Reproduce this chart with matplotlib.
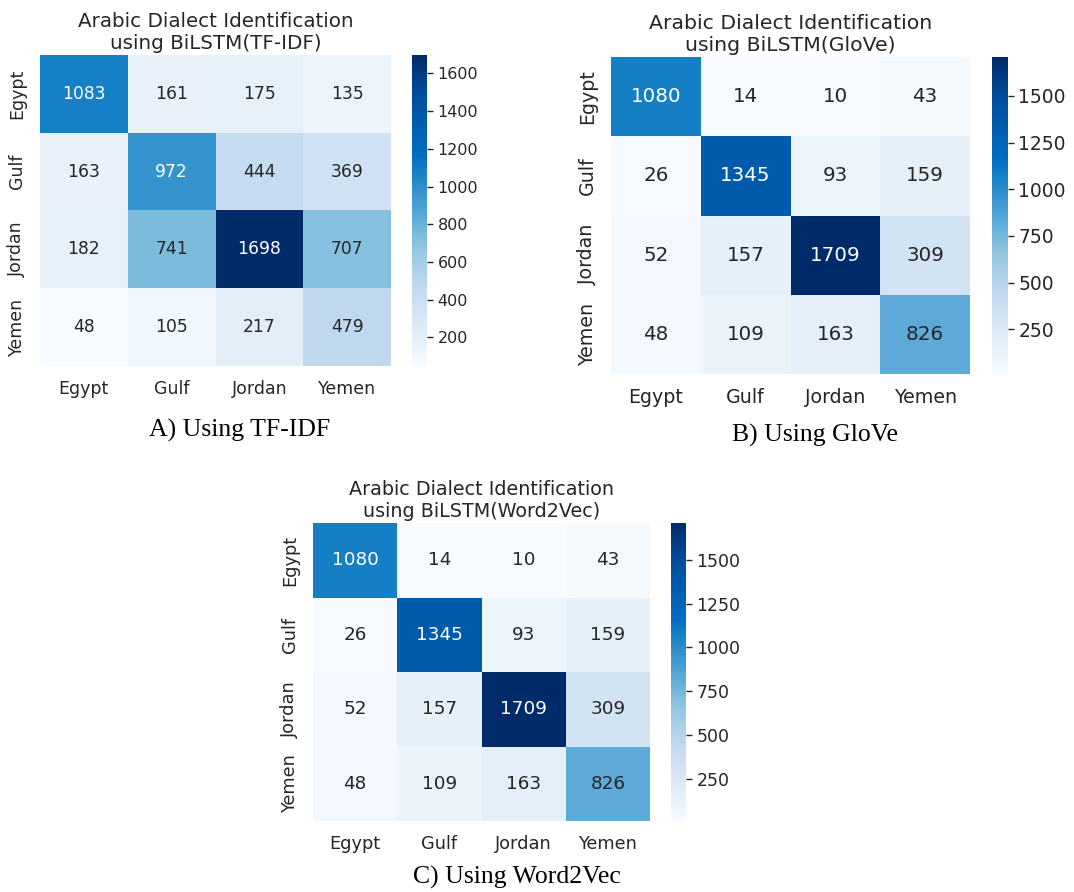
import numpy as np
import matplotlib
matplotlib.use("Agg")
import matplotlib.pyplot as plt
import matplotlib.colors as mcolors
import seaborn as sns
from seaborn.utils import relative_luminance

plt.rcParams["font.family"] = ["DejaVu Sans"]

labels = ["Egypt", "Gulf", "Jordan", "Yemen"]

cm_tfidf = [
    [1083, 161, 175, 135],
    [163, 972, 444, 369],
    [182, 741, 1698, 707],
    [48, 105, 217, 479],
]
cm_glove = [
    [1080, 14, 10, 43],
    [26, 1345, 93, 159],
    [52, 157, 1709, 309],
    [48, 109, 163, 826],
]
cm_word2vec = [
    [1080, 14, 10, 43],
    [26, 1345, 93, 159],
    [52, 157, 1709, 309],
    [48, 109, 163, 826],
]

titles = [
    "Arabic Dialect Identification\nusing BiLSTM(TF-IDF)",
    "Arabic Dialect Identification\nusing BiLSTM(GloVe)",
    "Arabic Dialect Identification\nusing BiLSTM(Word2Vec)",
]
captions = ["A) Using TF-IDF", "B) Using GloVe", "C) Using Word2Vec"]
cbar_ticks = [
    [200, 400, 600, 800, 1000, 1200, 1400, 1600],
    [250, 500, 750, 1000, 1250, 1500],
    [250, 500, 750, 1000, 1250, 1500],
]

# A punchier variant of the "Blues" colormap
blues = plt.get_cmap("Blues")
base = blues(np.linspace(0, 1, 256))[:, :3]
hsv = mcolors.rgb_to_hsv(base)
s = hsv[:, 1]
hsv[:, 1] = np.clip(s * (1 + 0.5 * s), 0, 1)
blues_vivid = mcolors.ListedColormap(mcolors.hsv_to_rgb(hsv), name="blues_vivid")

W, H = 1074, 892
fig = plt.figure(figsize=(W / 100, H / 100), dpi=100)


def px_axes(x0, y0, x1, y1):
    return fig.add_axes([x0 / W, 1 - y1 / H, (x1 - x0) / W, (y1 - y0) / H])


# (heatmap box, colorbar box, caption position) in pixels
panels = [
    ((40, 55, 391, 366), (412, 55, 427, 366), (240, 430)),
    ((611, 57, 970, 374), (992, 57, 1008, 374), (815, 435)),
    ((313, 523, 650, 821), (671, 523, 686, 821), (517, 877)),
]
# font sizes per panel: (annotation, tick labels, colorbar labels, title)
sizes = [
    (12.3, 12.5, 11.5, 14.3),
    (14.3, 13.7, 13.5, 14.7),
    (13.2, 12.8, 12.5, 13.8),
]

text_color = "#262626"
for data, title, cap, ticks, (hm, cb, cp), (fa, ft, fc, fti) in zip(
    [cm_tfidf, cm_glove, cm_word2vec], titles, captions, cbar_ticks, panels, sizes
):
    arr = np.array(data)
    ax = px_axes(*hm)
    cax = px_axes(*cb)
    sns.heatmap(
        arr, annot=True, fmt="d", cmap=blues_vivid, ax=ax, cbar_ax=cax,
        xticklabels=labels, yticklabels=labels,
        annot_kws={"fontsize": fa},
    )
    # annotation colour follows the luminance of the plain Blues colour
    norm = mcolors.Normalize(arr.min(), arr.max())
    for txt, v in zip(ax.texts, arr.ravel()):
        lum = relative_luminance(blues(norm(v)))
        txt.set_color(text_color if lum > 0.408 else "white")
    ax.set_title(title, fontsize=fti, color=text_color, pad=4, linespacing=1.2)
    ax.tick_params(length=0, labelsize=ft, colors=text_color, pad=10)
    ax.set_yticklabels(labels, rotation=90, va="center")
    cax.set_yticks(ticks)
    cax.tick_params(labelsize=fc, colors=text_color, length=4, width=1)
    for sp in cax.spines.values():
        sp.set_visible(False)
    fig.text(cp[0] / W, 1 - cp[1] / H, cap, ha="center", va="center",
             fontsize=18.5, family="Liberation Serif", color="black")

fig.savefig("out.png", dpi=100, facecolor="white")
